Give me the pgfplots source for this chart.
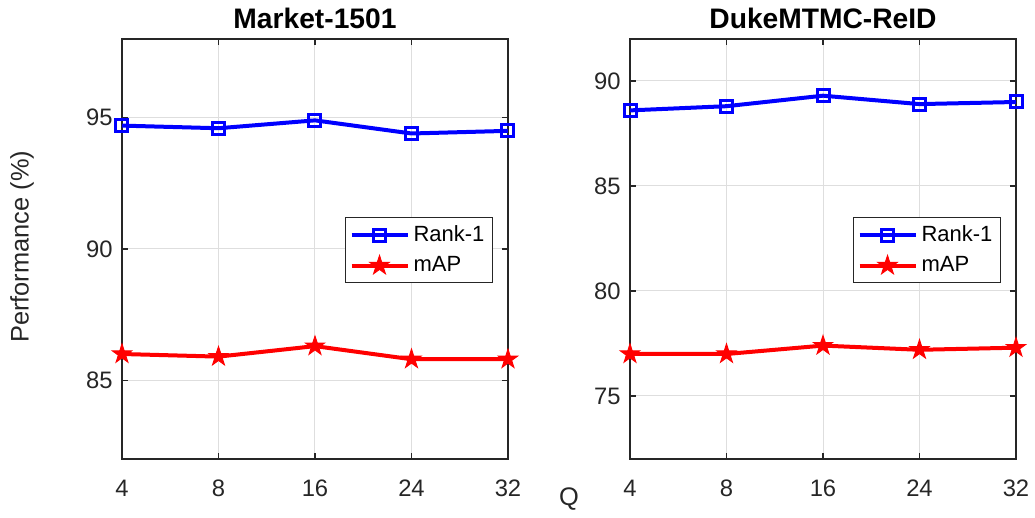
\documentclass[border=0pt]{standalone}
\usepackage{fontspec}
\setmainfont{Liberation Sans}
\usepackage{pgfplots}
\pgfplotsset{compat=1.18}
\definecolor{axgray}{gray}{0.15}
\definecolor{gridgray}{gray}{0.87}
\pgfdeclareplotmark{pentagram}{%
  \pgfpathmoveto{\pgfpointpolar{90}{\pgfplotmarksize}}%
  \pgfpathlineto{\pgfpointpolar{126}{0.382\pgfplotmarksize}}%
  \pgfpathlineto{\pgfpointpolar{162}{\pgfplotmarksize}}%
  \pgfpathlineto{\pgfpointpolar{198}{0.382\pgfplotmarksize}}%
  \pgfpathlineto{\pgfpointpolar{234}{\pgfplotmarksize}}%
  \pgfpathlineto{\pgfpointpolar{270}{0.382\pgfplotmarksize}}%
  \pgfpathlineto{\pgfpointpolar{306}{\pgfplotmarksize}}%
  \pgfpathlineto{\pgfpointpolar{342}{0.382\pgfplotmarksize}}%
  \pgfpathlineto{\pgfpointpolar{18}{\pgfplotmarksize}}%
  \pgfpathlineto{\pgfpointpolar{54}{0.382\pgfplotmarksize}}%
  \pgfpathclose
  \pgfusepathqfillstroke}
\pgfplotsset{
  every axis title shift=0pt,
  panel/.style={
    scale only axis, width=193pt, height=210pt,
    xmin=0, xmax=4, xtick={0,1,2,3,4}, xticklabels={4,8,16,24,32},
    grid=major, major grid style={gridgray, line width=0.5pt},
    axis line style={axgray, line width=0.6pt},
    tick style={axgray, line width=0.6pt},
    major tick length=3pt, tick align=inside,
    xtick pos=both, ytick pos=both,
    ticklabel style={font=\fontsize{11.9}{14}\selectfont, text=axgray},
    xticklabel style={yshift=-7pt},
    yticklabel style={xshift=-1.2pt},
    /pgf/number format/assume math mode=true,
    title style={font=\fontsize{14.1}{17}\selectfont\bfseries, at={(axis description cs:0.5,1)}, anchor=base, yshift=5pt},
    legend style={at={(axis description cs:0.961,0.576)}, anchor=north east,
      font=\fontsize{11}{13}\selectfont, draw=axgray, line width=0.5pt,
      legend cell align=left, row sep=2pt, inner sep=2pt},
    legend image code/.code={\draw[mark repeat=2, mark phase=2] plot coordinates {(0pt,0pt)(14pt,0pt)(28pt,0pt)};},
  },
  rankstyle/.style={blue, line width=2pt, mark=square, mark size=3pt, mark options={line width=1.5pt, solid}},
  mapstyle/.style={red, line width=2pt, mark=pentagram, mark size=5pt, mark options={line width=0.5pt, solid, fill=red}},
}
\begin{document}
\begin{tikzpicture}
\path[use as bounding box] (-61pt,-29.5pt) rectangle (456.5pt,229.5pt);
\begin{axis}[panel, at={(0pt,0pt)}, anchor=south west,
  title={Market-1501}, ymin=82, ymax=98, ytick={85,90,95},
  ylabel={Performance (\%)},
  ylabel style={at={(axis description cs:-0.259,0.505)}, anchor=center, font=\fontsize{12.7}{15}\selectfont, text=axgray}]
\addplot[rankstyle] coordinates {(0,94.7) (1,94.6) (2,94.9) (3,94.4) (4,94.5)};
\addlegendentry{Rank-1}
\addplot[mapstyle] coordinates {(0,86.0) (1,85.9) (2,86.3) (3,85.8) (4,85.8)};
\addlegendentry{mAP}
\end{axis}
\begin{axis}[panel, at={(254pt,0pt)}, anchor=south west,
  title={DukeMTMC-ReID}, ymin=72, ymax=92, ytick={75,80,85,90}]
\addplot[rankstyle] coordinates {(0,88.6) (1,88.8) (2,89.3) (3,88.9) (4,89.0)};
\addlegendentry{Rank-1}
\addplot[mapstyle] coordinates {(0,77.0) (1,77.0) (2,77.4) (3,77.2) (4,77.3)};
\addlegendentry{mAP}
\end{axis}
\node[font=\fontsize{12.7}{15}\selectfont, text=axgray] at (223.5pt,-20pt) {Q};
\end{tikzpicture}
\end{document}
